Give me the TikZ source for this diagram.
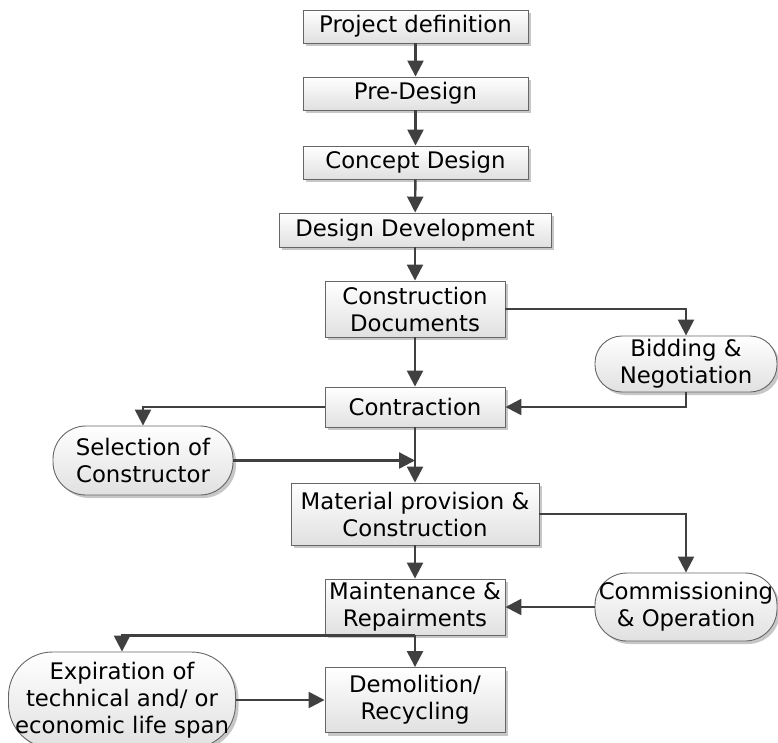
\documentclass[tikz,border=0pt]{standalone}
\usepackage{fontspec}
\setmainfont{DejaVu Sans}
\usetikzlibrary{arrows.meta,shadows}

\begin{document}
\begin{tikzpicture}[x=1pt, y=-1pt,
    stage/.style={draw=black!60, line width=0.9pt, top color=white, bottom color=black!12,
      drop shadow={shadow xshift=3pt, shadow yshift=-3pt, fill=black!22, opacity=1},
      font=\fontsize{22.8}{27}\selectfont, align=center, inner sep=1pt},
    event/.style={stage, rounded corners=27pt},
    conn/.style={draw=black!75, line width=2.4pt, -{Triangle[length=16pt, width=16pt]}}]
    \useasboundingbox (0,0) rectangle (778,742);

    % main stages
    \node[stage, minimum width=225, minimum height=33] (projdef) at (415.5,26.5) {Project definition};
    \node[stage, minimum width=225, minimum height=33] (predesign) at (415.5,93.5) {Pre-Design};
    \node[stage, minimum width=225, minimum height=33] (concept) at (415.5,162.5) {Concept Design};
    \node[stage, minimum width=272, minimum height=34] (designdev) at (415,230) {Design Development};
    \node[stage, minimum width=180, minimum height=56] (constdocs) at (415,309) {Construction\\Documents};
    \node[stage, minimum width=180, minimum height=40] (contraction) at (415,407) {Contraction};
    \node[stage, minimum width=248, minimum height=62] (material) at (415,514) {Material provision \&\\Construction};
    \node[stage, minimum width=180, minimum height=56] (maintenance) at (415,607) {Maintenance \&\\Repairments};
    \node[stage, minimum width=180, minimum height=65] (demolition) at (415,700) {Demolition/\\Recycling};

    % side events
    \node[event, minimum width=182, minimum height=56] (bidding) at (686,364) {Bidding \&\\Negotiation};
    \node[event, minimum width=180, minimum height=69, rounded corners=33pt] (selection) at (143,460.5) {Selection of\\Constructor};
    \node[event, minimum width=182, minimum height=68, rounded corners=32pt] (commissioning) at (686,607) {Commissioning\\\& Operation};
    \node[event, minimum width=227, minimum height=96, rounded corners=44pt] (expiration) at (122,700) {Expiration of\\technical and/ or\\economic life span};

    % main flow
    \draw[conn] (projdef) -- (predesign);
    \draw[conn] (predesign) -- (concept);
    \draw[conn] (concept) -- (designdev);
    \draw[conn] (designdev) -- (constdocs);
    \draw[conn] (constdocs) -- (contraction);
    \draw[conn] (contraction) -- (material);
    \draw[conn] (material) -- (maintenance);
    \draw[conn] (maintenance) -- (demolition);

    % branches
    \draw[conn] (constdocs.east) -| (bidding.north);
    \draw[conn] (bidding.south) |- (contraction.east);
    \draw[conn] (contraction.west) -| (selection.north);
    \coordinate (joint) at (contraction.south |- selection.east);
    \draw[conn] (selection.east) -- (joint);
    \draw[conn] (material.east) -| (commissioning.north);
    \draw[conn] (commissioning.west) -- (maintenance.east);
    \draw[conn] (maintenance.south) -| (expiration.north);
    \draw[conn] (expiration.east) -- (demolition.west);
\end{tikzpicture}
\end{document}
